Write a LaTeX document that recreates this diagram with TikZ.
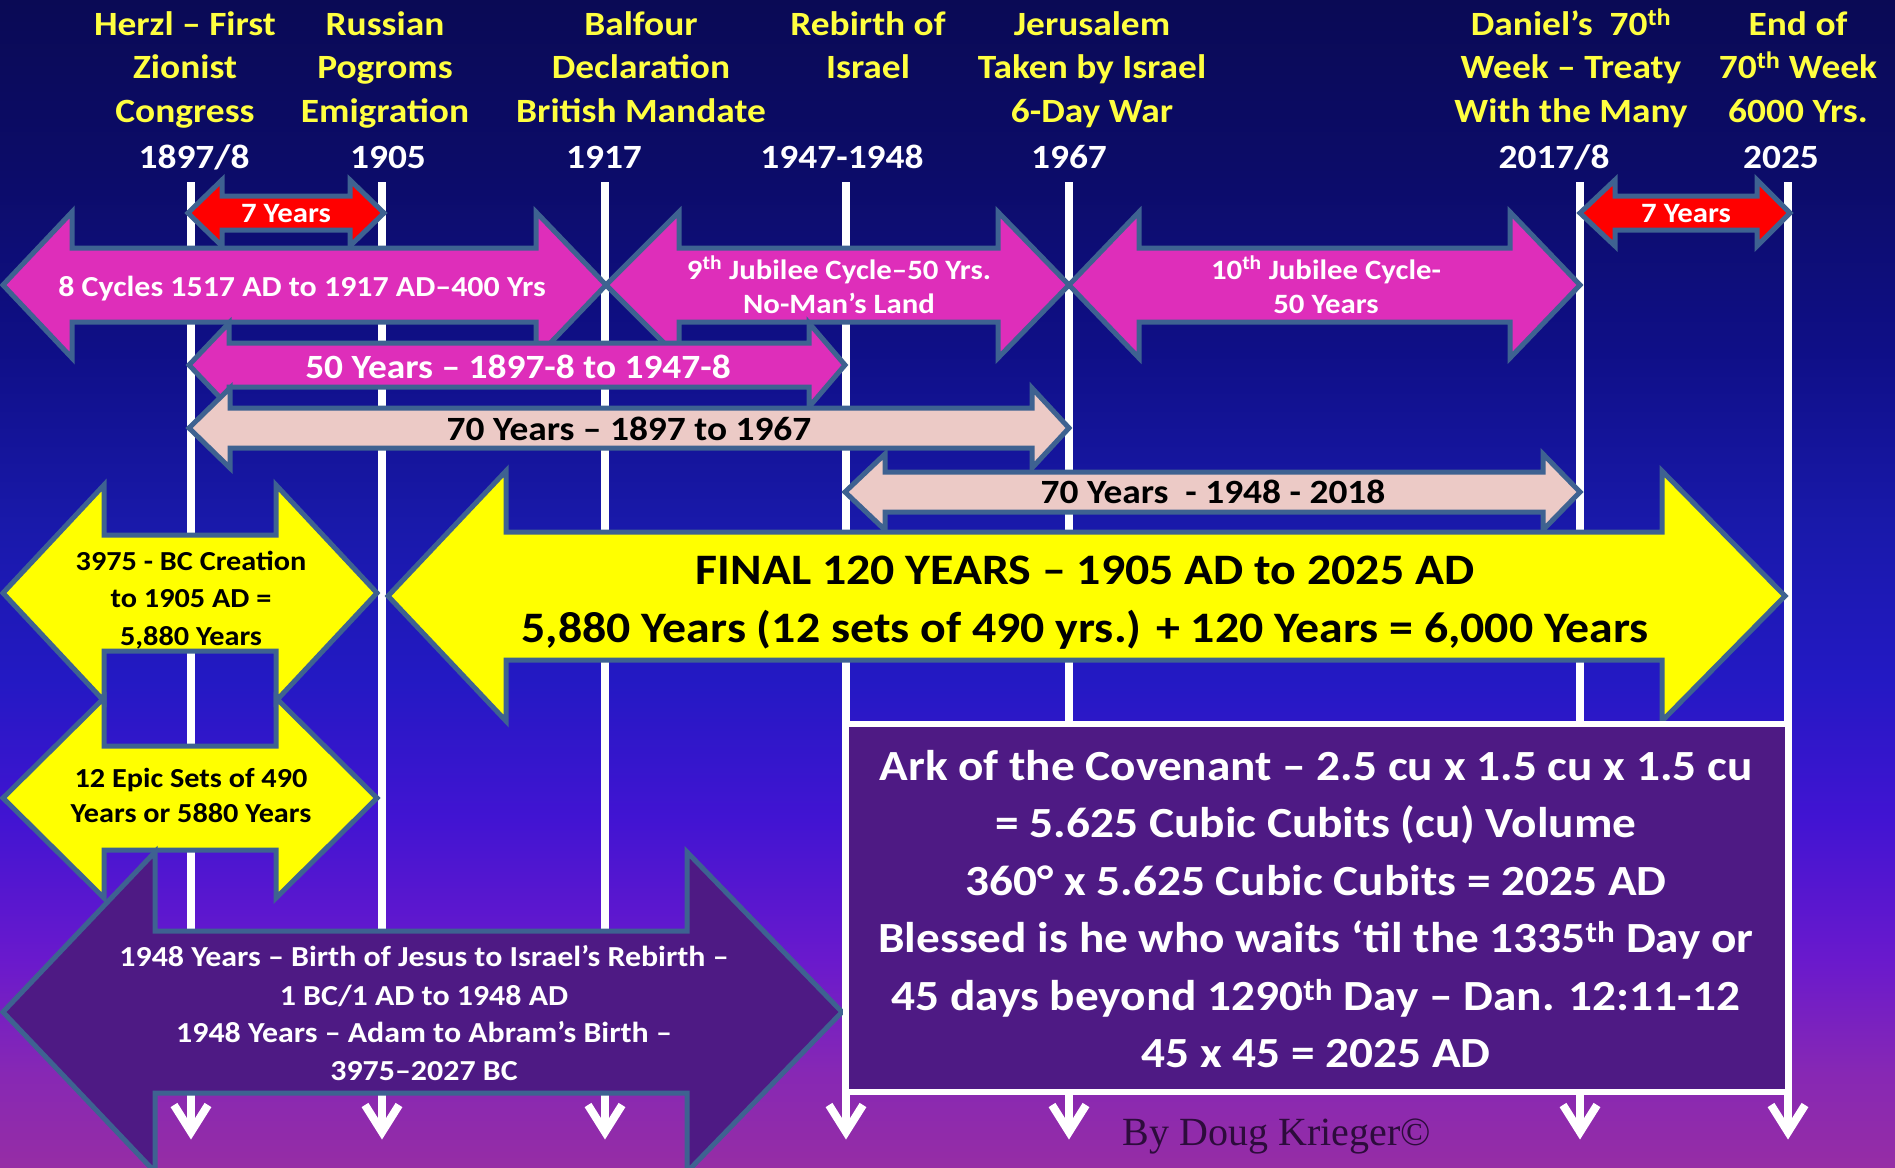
\documentclass[tikz,border=0pt]{standalone}
\usepackage{fontspec}
\setmainfont{Carlito}[FakeStretch=1.1]
\newfontfamily\bylinefont{Liberation Serif}
\definecolor{outl}{RGB}{62,98,145}
\definecolor{mag}{RGB}{222,46,186}
\definecolor{pinkb}{RGB}{236,202,198}
\definecolor{yel}{RGB}{255,255,0}
\definecolor{redb}{RGB}{255,0,0}
\definecolor{purp}{RGB}{78,26,132}
\definecolor{hdryel}{RGB}{255,255,64}
\definecolor{byl}{RGB}{45,12,60}
\definecolor{bgA}{RGB}{150,45,165}
\definecolor{bgB}{RGB}{135,40,180}
\definecolor{bgC}{RGB}{105,25,205}
\definecolor{bgD}{RGB}{65,20,210}
\definecolor{bgE}{RGB}{35,25,195}
\definecolor{bgF}{RGB}{25,25,170}
\definecolor{bgG}{RGB}{15,15,135}
\definecolor{bgH}{RGB}{12,12,105}
\definecolor{bgI}{RGB}{10,10,85}
% the shaded path is mapped onto 25bp..75bp of the shading
\pgfdeclareverticalshading{bgshade}{100bp}{color(0bp)=(bgA); color(25bp)=(bgA); color(29bp)=(bgB); color(34bp)=(bgC); color(40bp)=(bgD); color(46bp)=(bgE); color(52.5bp)=(bgF); color(60bp)=(bgG); color(67.5bp)=(bgH); color(75bp)=(bgI); color(100bp)=(bgI)}
\newcommand{\fsz}[1]{\fontsize{#1}{#1}\selectfont\bfseries}
\newcommand{\dblarr}[8]{%
  \draw[#1] (#2,#6) -- (#3,#6-#8) -- (#3,#6-#7) -- (#4,#6-#7) -- (#4,#6-#8) -- (#5,#6)
    -- (#4,#6+#8) -- (#4,#6+#7) -- (#3,#6+#7) -- (#3,#6+#8) -- cycle;}
\tikzset{
  tline/.style={draw=white, line width=8pt},
  chev/.style={draw=white, line width=8pt, line join=miter},
  shp/.style={draw=outl, line width=5pt, line join=miter},
  hdr/.style={inner sep=0pt, anchor=base, text=hdryel, font=\fsz{34}},
  yr/.style={inner sep=0pt, anchor=base, text=white, font=\fsz{34}},
  redtxt/.style={inner sep=0pt, anchor=base, text=white, font=\fsz{28}},
  magtxt/.style={inner sep=0pt, anchor=base, text=white, font=\fsz{28}},
  bigmag/.style={inner sep=0pt, anchor=base, text=white, font=\fsz{34}},
  pinktxt/.style={inner sep=0pt, anchor=base, text=black, font=\fsz{34}},
  yeltxt/.style={inner sep=0pt, anchor=base, text=black, font=\fsz{27.5}},
  finaltxt/.style={inner sep=0pt, anchor=base, text=black, font=\fsz{43.5}},
  purptxt/.style={inner sep=0pt, anchor=base, text=white, font=\fsz{29}},
  arktxt/.style={inner sep=0pt, anchor=base, text=white, font=\fsz{43}},
  bytxt/.style={inner sep=0pt, anchor=base, text=byl, font=\fontsize{40}{40}\selectfont\bylinefont},
}
\begin{document}
\begin{tikzpicture}[x=1pt,y=-1pt]
\useasboundingbox (0,0) rectangle (1895,1167);
\clip (0,0) rectangle (1895,1167);
\shade[shading=bgshade] (0,0) rectangle (1895,1167);

% timeline lines
\foreach \n/\x in {a/191,b/382,c/605,d/846,e/1069,f/1580,g/1788}{
  \coordinate (top\n) at (\x,182);
  \coordinate (bot\n) at (\x,1132);
  \coordinate (cl\n) at (\x-17,1105);
  \coordinate (cr\n) at (\x+17,1105);
  \draw[tline] (top\n) -- (bot\n);
  \draw[chev] (cl\n) -- (bot\n) -- (cr\n);
}

% red 7-year arrows
\dblarr{shp,fill=redb}{188}{222}{350}{384}{213}{17}{33}
\dblarr{shp,fill=redb}{1580}{1615}{1757}{1790}{213}{17}{33}
% magenta jubilee arrows
\dblarr{shp,fill=mag}{3}{72}{536}{606}{285}{37}{73}
\dblarr{shp,fill=mag}{606}{679}{998}{1069}{285}{37}{73}
\dblarr{shp,fill=mag}{1069}{1139}{1510}{1580}{285}{37}{73}
\dblarr{shp,fill=mag}{189}{229}{809}{845}{365}{22}{42}
% pink 70-year arrows
\dblarr{shp,fill=pinkb}{189}{230}{1032}{1069}{428}{20}{40}
\dblarr{shp,fill=pinkb}{845}{885}{1543}{1580}{492}{20}{38}
% yellow arrows
\dblarr{shp,fill=yel}{3}{104}{276}{377}{593}{58}{108}
\dblarr{shp,fill=yel}{3}{104}{276}{377}{798}{52}{100}
\dblarr{shp,fill=yel}{388}{506}{1662}{1785}{596}{64}{125}
% purple arrow
\dblarr{shp,fill=purp}{3}{155}{687}{842}{1012}{81}{160}
% ark box
\draw[draw=white, line width=6pt, fill=purp] (846,724) rectangle (1788,1092);

% header texts
\node[hdr] (h1a) at (185,35) {Herzl – First};
\node[hdr] (h1b) at (185,78) {Zionist};
\node[hdr] (h1c) at (185,122) {Congress};
\node[hdr] (h2a) at (385,35) {Russian};
\node[hdr] (h2b) at (385,78) {Pogroms};
\node[hdr] (h2c) at (385,122) {Emigration};
\node[hdr] (h3a) at (641,35) {Balfour};
\node[hdr] (h3b) at (641,78) {Declaration};
\node[hdr] (h3c) at (641,122) {British Mandate};
\node[hdr] (h4a) at (868,35) {Rebirth of};
\node[hdr] (h4b) at (868,78) {Israel};
\node[hdr] (h5a) at (1092,35) {Jerusalem};
\node[hdr] (h5b) at (1092,78) {Taken by Israel};
\node[hdr] (h5c) at (1092,122) {6-Day War};
\node[hdr] (h6a) at (1571,35) {Daniel’s\ \ 70\textsuperscript{th}};
\node[hdr] (h6b) at (1571,78) {Week – Treaty};
\node[hdr] (h6c) at (1571,122) {With the Many};
\node[hdr] (h7a) at (1798,35) {End of};
\node[hdr] (h7b) at (1798,78) {70\textsuperscript{th} Week};
\node[hdr] (h7c) at (1798,122) {6000 Yrs.};
% years
\node[yr] (y1) at (194,168) {1897/8};
\node[yr] (y2) at (388,168) {1905};
\node[yr] (y3) at (604,168) {1917};
\node[yr] (y4) at (842,168) {1947-1948};
\node[yr] (y5) at (1069,168) {1967};
\node[yr] (y6) at (1554,168) {2017/8};
\node[yr] (y7) at (1781,168) {2025};

% arrow texts
\node[redtxt] (r1) at (286,222) {7 Years};
\node[redtxt] (r2) at (1686,222) {7 Years};
\node[magtxt,font=\fsz{29}] (m1) at (302,296) {8 Cycles 1517 AD to 1917 AD–400 Yrs};
\node[magtxt] (m2a) at (839,279) {9\textsuperscript{th} Jubilee Cycle–50 Yrs.};
\node[magtxt] (m2b) at (839,313) {No-Man’s Land};
\node[magtxt] (m3a) at (1326,279) {10\textsuperscript{th} Jubilee Cycle-};
\node[magtxt] (m3b) at (1326,313) {50 Years};
\node[bigmag] (m4) at (518,378) {50 Years – 1897-8 to 1947-8};
\node[pinktxt] (p1) at (629,440) {70 Years – 1897 to 1967};
\node[pinktxt] (p2) at (1213,503) {70 Years\ \ - 1948 - 2018};
\node[yeltxt] (ya1) at (191,570) {3975 - BC Creation};
\node[yeltxt] (ya2) at (191,607) {to 1905 AD =};
\node[yeltxt] (ya3) at (191,645) {5,880 Years};
\node[yeltxt] (yb1) at (191,787) {12 Epic Sets of 490};
\node[yeltxt] (yb2) at (191,822) {Years or 5880 Years};
\node[finaltxt] (f1) at (1085,584) {FINAL 120 YEARS – 1905 AD to 2025 AD};
\node[finaltxt] (f2) at (1085,642) {5,880 Years (12 sets of 490 yrs.) + 120 Years = 6,000 Years};
\node[purptxt] (pu1) at (424,966) {1948 Years – Birth of Jesus to Israel’s Rebirth –};
\node[purptxt] (pu2) at (424,1005) {1 BC/1 AD to 1948 AD};
\node[purptxt] (pu3) at (424,1042) {1948 Years – Adam to Abram’s Birth –};
\node[purptxt] (pu4) at (424,1080) {3975–2027 BC};
\node[arktxt] (k1) at (1316,780) {Ark of the Covenant – 2.5 cu x 1.5 cu x 1.5 cu};
\node[arktxt] (k2) at (1316,837) {= 5.625 Cubic Cubits (cu) Volume};
\node[arktxt] (k3) at (1316,895) {360° x 5.625 Cubic Cubits = 2025 AD};
\node[arktxt] (k4) at (1316,952) {Blessed is he who waits ‘til the 1335\textsuperscript{th} Day or};
\node[arktxt] (k5) at (1316,1010) {45 days beyond 1290\textsuperscript{th} Day – Dan. 12:11-12};
\node[arktxt] (k6) at (1316,1067) {45 x 45 = 2025 AD};
\node[bytxt] (by) at (1277,1145) {By Doug Krieger©};
\end{tikzpicture}
\end{document}
